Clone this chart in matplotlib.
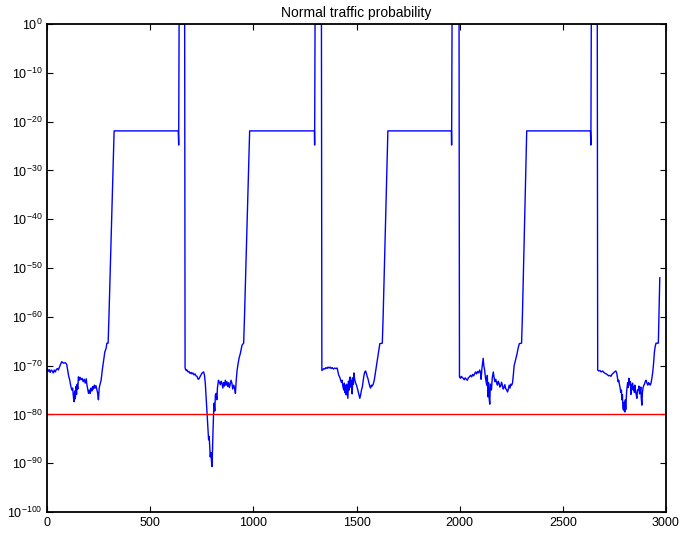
import numpy as np
import matplotlib
matplotlib.use("Agg")
import matplotlib.pyplot as plt

plt.rcParams['font.family'] = ['Liberation Sans', 'DejaVu Sans']
plt.rcParams['mathtext.default'] = 'regular'

# sample index and log10 of the probability
x_pts = [
    # cycle 1
    0, 5, 10, 15, 20, 25, 30, 35, 40, 45, 50, 55, 60, 65, 71, 80, 88, 95, 100, 105,
    110, 115, 120, 124, 128, 131, 134, 137, 140, 143, 146, 149, 152, 156, 160, 165,
    170, 175, 180, 185, 190, 193, 197, 201, 205, 209, 213, 217, 221, 225, 229, 233,
    237, 241, 245, 249, 253, 257, 262, 268, 274, 280, 286, 290, 296, 300, 325, 636,
    638, 640, 667,
    # cycle 2
    669, 674, 678, 683, 688, 693, 698, 702, 707, 712, 717, 722, 727, 731, 735, 740,
    745, 750, 755, 759, 763, 767, 771, 775, 779, 783, 786, 789, 791, 794, 797, 799,
    801, 804, 807, 810, 813, 816, 820, 823, 826, 831, 835, 840, 844, 848, 852, 856,
    860, 864, 868, 872, 876, 880, 884, 888, 892, 896, 900, 905, 909, 913, 917, 921,
    926, 931, 937, 941, 945, 953, 957, 982, 1296, 1297, 1299, 1330,
    # cycle 3
    1332, 1337, 1342, 1347, 1352, 1357, 1362, 1367, 1372, 1377, 1382, 1388, 1394,
    1400, 1406, 1410, 1414, 1418, 1422, 1426, 1430, 1434, 1438, 1441, 1444, 1447,
    1450, 1453, 1456, 1458, 1461, 1464, 1467, 1471, 1474, 1477, 1479, 1482, 1485,
    1487, 1491, 1495, 1500, 1505, 1510, 1516, 1520, 1524, 1528, 1532, 1536, 1540,
    1544, 1548, 1552, 1555, 1560, 1564, 1568, 1572, 1576, 1581, 1586, 1592, 1598,
    1604, 1609, 1613, 1625, 1629, 1652, 1960, 1961, 1963, 1997,
    # cycle 4
    1999, 2004, 2008, 2012, 2017, 2022, 2027, 2032, 2037, 2042, 2047, 2053, 2058,
    2063, 2068, 2073, 2077, 2082, 2087, 2092, 2097, 2101, 2104, 2108, 2111, 2114,
    2117, 2121, 2125, 2128, 2131, 2134, 2137, 2140, 2143, 2146, 2148, 2150, 2154,
    2158, 2163, 2167, 2171, 2175, 2179, 2183, 2187, 2191, 2195, 2199, 2203, 2207,
    2211, 2215, 2219, 2223, 2228, 2232, 2236, 2240, 2244, 2248, 2252, 2256, 2260,
    2264, 2270, 2277, 2283, 2289, 2300, 2304, 2325, 2634, 2636, 2638, 2667,
    # cycle 5
    2669, 2674, 2680, 2686, 2693, 2699, 2705, 2711, 2717, 2722, 2727, 2733, 2738,
    2743, 2748, 2753, 2757, 2761, 2765, 2768, 2771, 2775, 2778, 2781, 2784, 2786,
    2789, 2791, 2794, 2797, 2799, 2801, 2803, 2805, 2807, 2810, 2814, 2817, 2820,
    2822, 2825, 2828, 2830, 2833, 2836, 2838, 2841, 2844, 2847, 2849, 2852, 2855,
    2859, 2862, 2866, 2869, 2872, 2875, 2878, 2880, 2883, 2886, 2889, 2893, 2896,
    2899, 2903, 2907, 2912, 2916, 2920, 2924, 2928, 2932, 2936, 2940, 2944, 2948,
    2952, 2963, 2966, 2970,
]
log_p = [
    # cycle 1
    -70.6, -71.2, -70.8, -71.4, -70.9, -71.1, -71.5, -70.9, -71.3, -70.8, -70.6, -70.9,
    -70.3, -69.8, -69.2, -69.5, -69.4, -69.7, -71.0, -72.2, -73.0, -74.2, -75.0, -74.6,
    -76.5, -77.4, -75.2, -76.8, -74.3, -75.9, -73.8, -74.8, -72.3, -73.0, -72.4, -72.9,
    -72.6, -73.3, -72.8, -73.6, -72.7, -73.9, -74.8, -75.7, -75.0, -75.7, -74.6, -75.2,
    -74.3, -74.8, -74.0, -74.6, -74.1, -74.9, -75.6, -77.0, -74.5, -73.8, -73.0, -70.8,
    -69.0, -67.2, -66.5, -65.4, -65.4, -60.0, -21.9, -21.9, -24.8, 0.0, 0.0,
    # cycle 2
    -70.5, -71.0, -70.9, -71.3, -71.2, -71.6, -71.4, -71.7, -71.5, -71.9, -71.7, -72.1,
    -72.2, -72.7, -72.8, -72.4, -72.0, -71.6, -71.4, -71.3, -72.0, -73.6, -76.5, -79.1,
    -82.0, -85.2, -84.5, -87.3, -88.7, -87.8, -89.5, -90.7, -89.0, -83.9, -80.0, -77.7,
    -79.3, -76.0, -75.7, -77.0, -74.5, -73.0, -73.4, -73.9, -73.2, -73.6, -74.6, -73.5,
    -74.2, -73.0, -74.0, -73.3, -74.3, -73.5, -74.5, -73.7, -73.0, -73.6, -74.8, -74.0,
    -74.6, -75.7, -73.0, -71.0, -69.6, -68.4, -67.5, -66.6, -65.8, -65.4, -60.0, -21.9,
    -21.9, -24.8, 0.0, 0.0,
    # cycle 3
    -71.0, -70.8, -70.6, -70.7, -70.4, -70.6, -70.3, -70.5, -70.3, -70.6, -70.4, -70.7,
    -70.5, -70.6, -70.5, -71.3, -72.0, -72.3, -72.8, -73.4, -73.0, -74.3, -75.0, -73.6,
    -75.5, -74.0, -76.0, -73.8, -75.4, -76.7, -73.2, -75.0, -72.4, -72.4, -74.5, -73.0,
    -75.8, -72.5, -73.8, -71.5, -72.8, -73.5, -74.0, -74.8, -75.7, -76.7, -76.0, -75.0,
    -74.4, -73.2, -72.0, -71.3, -71.1, -71.6, -72.3, -72.6, -73.5, -74.2, -74.6, -74.0,
    -74.2, -73.8, -73.0, -71.3, -69.5, -67.8, -66.5, -65.5, -65.4, -60.0, -21.9, -21.9,
    -24.8, 0.0, 0.0,
    # cycle 4
    -72.3, -72.6, -72.2, -72.4, -72.6, -72.9, -72.5, -72.8, -73.0, -72.5, -72.3, -72.0,
    -72.3, -71.8, -72.1, -71.6, -71.3, -71.7, -71.2, -71.5, -70.9, -71.4, -72.8, -70.5,
    -69.5, -68.5, -70.0, -70.9, -72.5, -73.2, -74.0, -72.0, -76.4, -73.5, -76.8, -77.9,
    -74.5, -73.8, -75.0, -72.5, -71.3, -72.5, -73.3, -72.8, -73.5, -74.0, -73.2, -73.6,
    -74.4, -74.2, -73.4, -74.0, -74.8, -74.5, -73.9, -74.7, -75.0, -75.4, -74.8, -74.0,
    -74.6, -73.8, -74.0, -73.6, -72.0, -70.0, -69.0, -67.8, -66.5, -65.5, -65.4, -60.0,
    -21.9, -21.9, -24.8, 0.0, 0.0,
    # cycle 5
    -70.9, -71.1, -71.0, -71.3, -71.1, -71.4, -71.6, -71.7, -71.9, -72.1, -72.0, -72.2,
    -71.8, -71.6, -71.4, -71.2, -71.1, -71.5, -72.5, -73.3, -73.0, -74.0, -74.6, -75.5,
    -75.0, -77.0, -76.0, -78.5, -79.1, -77.5, -79.3, -79.5, -77.0, -79.0, -77.0, -75.0,
    -73.5, -74.5, -72.6, -72.8, -74.0, -73.3, -75.9, -74.0, -74.8, -73.6, -75.0, -74.3,
    -75.5, -74.0, -75.0, -75.8, -76.7, -75.0, -75.0, -74.2, -75.8, -75.5, -74.4, -76.5,
    -78.1, -75.5, -74.5, -74.0, -73.8, -73.3, -73.0, -73.5, -74.0, -73.5, -73.8, -74.0,
    -73.5, -72.5, -71.3, -69.5, -67.2, -66.0, -65.4, -65.4, -60.0, -52.0,
]
threshold = 1e-80

prob = 10.0 ** np.array(log_p)

fig = plt.figure(figsize=(6.82, 5.34), dpi=100)
ax = fig.add_axes([0.069, 0.0412, 0.9075, 0.9138])

ax.plot(x_pts, prob, color='blue', linewidth=1.0)
ax.axhline(threshold, color='red', linewidth=1.0)

ax.set_yscale('log')
ax.set_xlim(0, 3000)
ax.set_ylim(1e-100, 1e0)
ax.set_yticks([10.0 ** k for k in range(-100, 1, 10)])
ax.yaxis.set_minor_locator(matplotlib.ticker.NullLocator())
ax.set_xticks([0, 500, 1000, 1500, 2000, 2500, 3000])
ax.tick_params(direction='in', top=True, right=True, length=4, labelsize=9)
for side in ax.spines:
    ax.spines[side].set_linewidth(1.3)
ax.set_title("Normal traffic probability", fontsize=10, pad=5)

fig.savefig("out.png", dpi=100)
